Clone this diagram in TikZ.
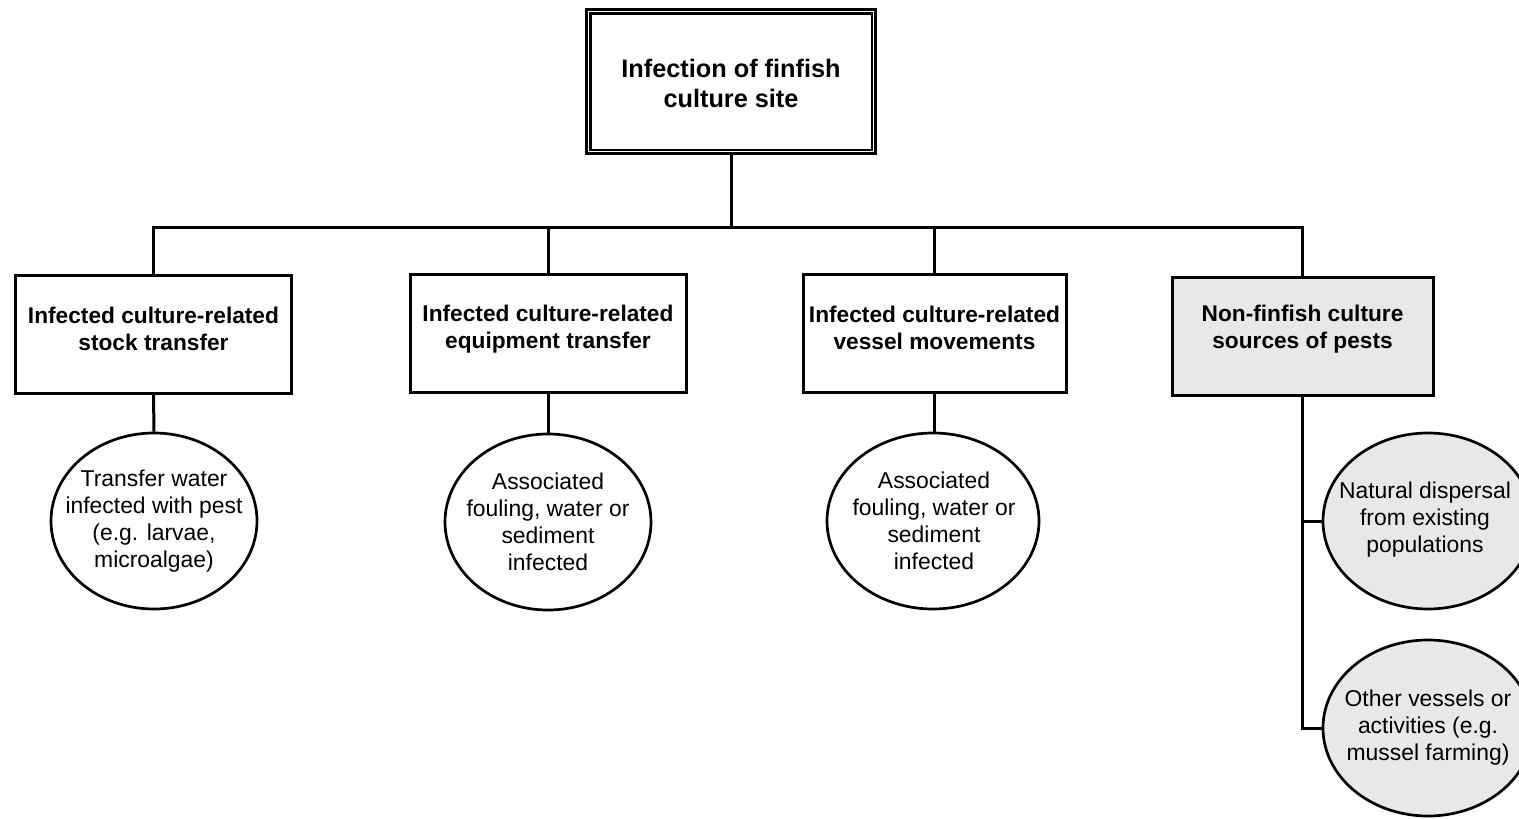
\documentclass[tikz,border=0pt]{standalone}
\usepackage{fontspec}
\setmainfont{Liberation Sans}
\usetikzlibrary{shapes.geometric}
\definecolor{paleg}{RGB}{232,232,232}
\tikzset{
  conn/.style={line width=3pt},
  boxshape/.style={draw, line width=3pt, rectangle, inner sep=0pt, minimum height=118pt},
  boxtext/.style={align=center, inner sep=0pt, font={\fontsize{22.7}{27}\selectfont\bfseries}},
  ellshape/.style={draw, line width=2.7pt, ellipse, inner sep=0pt, minimum width=206pt, minimum height=176pt},
  elltext/.style={align=center, inner sep=0pt, font={\fontsize{22.9}{27}\selectfont}},
}
\begin{document}
\begin{tikzpicture}[x=1pt,y=-1pt]
\useasboundingbox (0,0) rectangle (1519,819);
\clip (0,0) rectangle (1519,819);
\fill[white] (0,0) rectangle (1519,819);

% top box
\node[draw, line width=3.2pt, rectangle, inner sep=0pt, minimum width=289pt, minimum height=144pt] (top) at (731,81.5) {};
\draw[line width=2.2pt] ([shift={(5.5,5.5)}]top.north west) rectangle ([shift={(-5.5,-5.5)}]top.south east);
\node[align=center, inner sep=0pt, font={\fontsize{25.3}{30}\selectfont\bfseries}] (topt) at (731,83) {Infection of finfish\\culture site};

% second level boxes
\node[boxshape, minimum width=276pt] (b1) at (153.5,334.5) {};
\node[boxshape, minimum width=276pt] (b2) at (548,333.5) {};
\node[boxshape, minimum width=263pt] (b3) at (934.5,333) {};
\node[boxshape, minimum width=261pt, fill=paleg] (b4) at (1302.5,336) {};

\node[boxtext] (b1t) at (153.5,329) {Infected culture-related\\stock transfer};
\node[boxtext] (b2t) at (548,329) {Infected culture-related\\equipment transfer};
\node[boxtext] (b3t) at (934.5,328) {Infected culture-related\\vessel movements};
\node[boxtext] (b4t) at (1302.5,329) {Non-finfish culture\\sources of pests};

% ellipses
\node[ellshape] (e1) at (154,521) {};
\node[ellshape] (e2) at (548,522) {};
\node[ellshape, minimum width=212pt] (e3) at (933,521) {};
\node[ellshape, minimum width=210pt, fill=paleg] (e4) at (1428,521) {};
\node[ellshape, minimum width=210pt, fill=paleg] (e5) at (1428,728) {};

\node[elltext] (e1t) at (154,521) {Transfer water\\infected with pest\\(e.g. larvae,\\microalgae)};
\node[elltext] (e2t) at (548,522) {Associated\\fouling, water or\\sediment\\infected};
\node[elltext] (e3t) at (934,521) {Associated\\fouling, water or\\sediment\\infected};
\node[elltext] (e4t) at (1425,520) {Natural dispersal\\from existing\\populations};
\node[elltext] (e5t) at (1428,728) {Other vessels or\\activities (e.g.\\mussel farming)};

% connectors
\coordinate (bus) at (731,227);
\draw[conn] (top.south) -- (bus);
\draw[conn] (b1.north) -- (b1.north |- bus) -- (b4.north |- bus) -- (b4.north);
\draw[conn] (b2.north) -- (b2.north |- bus);
\draw[conn] (b3.north) -- (b3.north |- bus);
\draw[conn] (b1.south) -- (e1.north);
\draw[conn] (b2.south) -- (e2.north);
\draw[conn] (b3.south) -- (b3.south |- e3.north);
\draw[conn] (b4.south) |- (e5.west);
\draw[conn] (b4.south |- e4.west) -- (e4.west);
\end{tikzpicture}
\end{document}
